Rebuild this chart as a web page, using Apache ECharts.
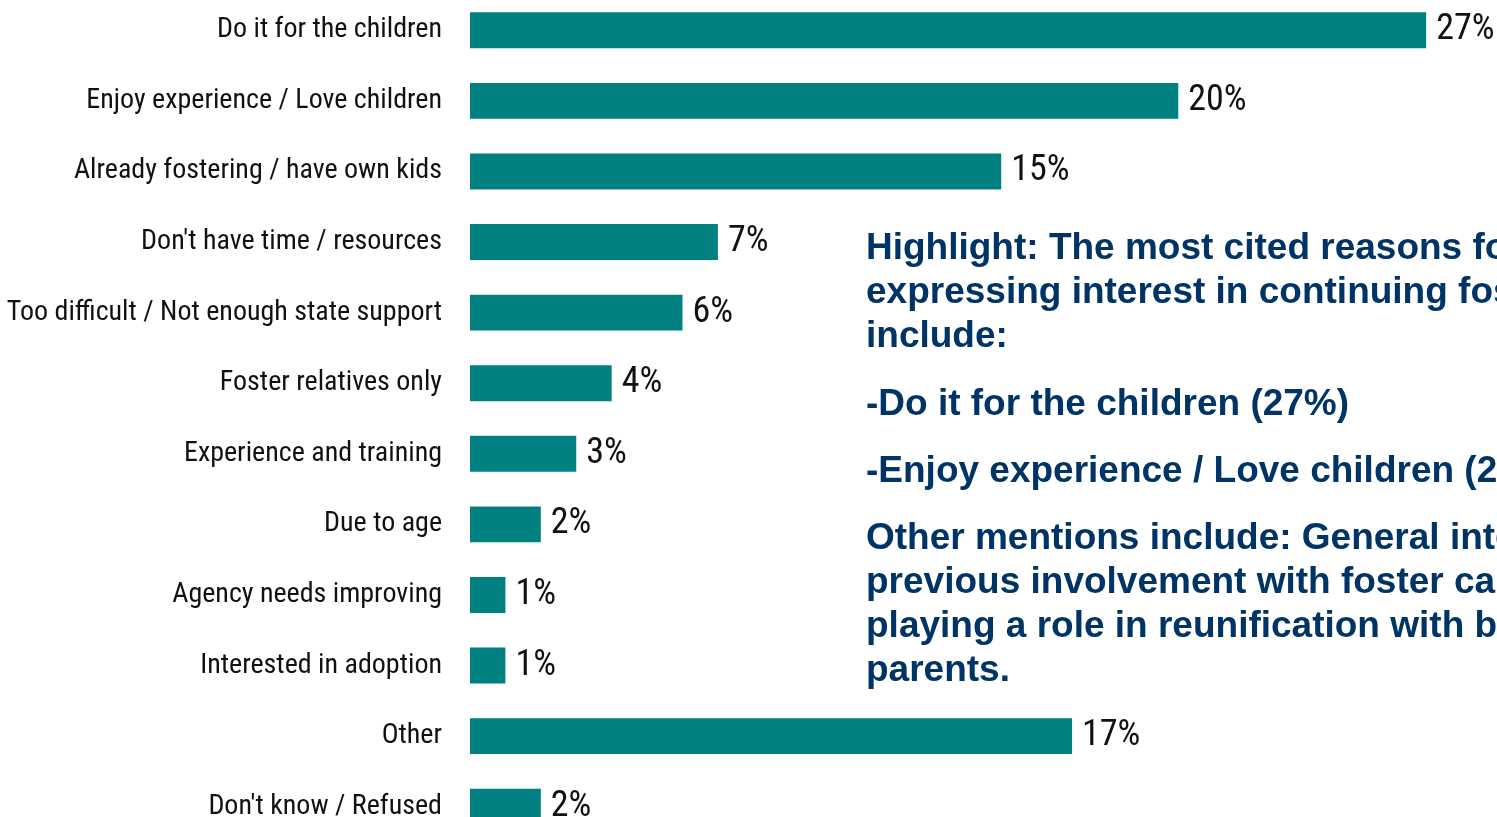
<!DOCTYPE html>
<html>
<head>
<meta charset="utf-8">
<script src="https://cdn.jsdelivr.net/npm/echarts@6/dist/echarts.min.js"></script>
<style>
  html, body { margin: 0; padding: 0; background: #ffffff; }
  #chart { width: 1497px; height: 817px; }
</style>
</head>
<body>
<div id="chart"></div>
<script>
// Reasons given, top to bottom
const categories = [
  "Do it for the children",
  "Enjoy experience / Love children",
  "Already fostering / have own kids",
  "Don't have time / resources",
  "Too difficult / Not enough state support",
  "Foster relatives only",
  "Experience and training",
  "Due to age",
  "Agency needs improving",
  "Interested in adoption",
  "Other",
  "Don't know / Refused"
];

// Share of respondents, percent
const shares = [27, 20, 15, 7, 6, 4, 3, 2, 1, 1, 17, 2];

// Call-out text, one entry per line
const highlightLines = [
  "Highlight: The most cited reasons for",
  "expressing interest in continuing fostering",
  "include:"
];
const topReasonLines = [
  "-Do it for the children (27%)",
  "-Enjoy experience / Love children (20%)"
];
const otherLines = [
  "Other mentions include: General interest,",
  "previous involvement with foster care,",
  "playing a role in reunification with biological",
  "parents."
];

const narrowFont = "'Liberation Sans Narrow', 'Arial Narrow', 'Roboto Condensed', 'DejaVu Sans Condensed', sans-serif";
const boldFont = "'Liberation Sans', Arial, sans-serif";
const navy = "#003366";

const chart = echarts.init(document.getElementById('chart'), null, { renderer: 'canvas' });

function textBlock(lines, x, y, lineHeight) {
  return lines.map((t, i) => ({
    type: 'text',
    left: x,
    top: y + i * lineHeight,
    silent: true,
    style: {
      text: t,
      fill: navy,
      font: 'bold 37px ' + boldFont,
      textVerticalAlign: 'middle'
    }
  }));
}

const option = {
  backgroundColor: '#ffffff',
  animation: false,
  grid: {
    left: 470, right: 0, top: -5, bottom: -25,
    containLabel: false,
    outerBoundsMode: 'none'
  },
  xAxis: {
    type: 'value',
    min: 0,
    max: 29,
    show: false
  },
  yAxis: {
    type: 'category',
    data: categories,
    inverse: true,
    axisLine: { show: false },
    axisTick: { show: false },
    splitLine: { show: false },
    axisLabel: {
      margin: 28,
      color: '#111111',
      fontFamily: narrowFont,
      fontSize: 28
    }
  },
  series: [{
    type: 'bar',
    data: shares,
    barCategoryGap: '49%',
    itemStyle: { color: '#008080' },
    label: {
      show: true,
      position: 'right',
      distance: 10,
      formatter: p => p.value + '%',
      color: '#111111',
      fontFamily: narrowFont,
      fontSize: 36
    }
  }],
  graphic: [].concat(
    textBlock(highlightLines, 866, 230, 44),
    textBlock(topReasonLines, 866, 386, 67),
    textBlock(otherLines, 866, 520, 44)
  )
};

chart.setOption(option);
</script>
</body>
</html>
